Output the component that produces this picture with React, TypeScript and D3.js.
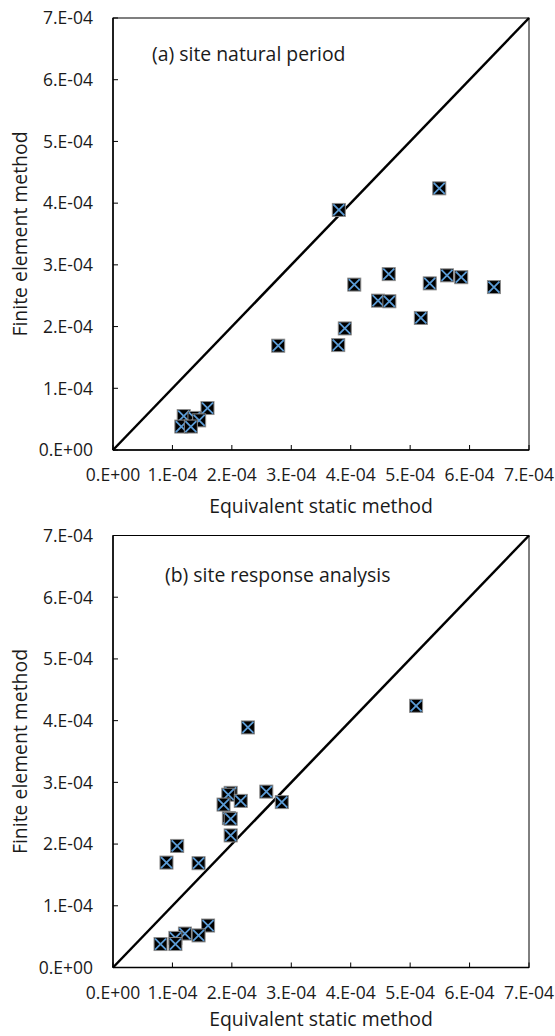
import React from "react";
import { scaleLinear, range } from "d3";

// values in units of 1e-4
const feMethod = [4.24, 3.89, 2.85, 2.83, 2.8, 2.7, 2.68, 2.64, 2.42, 2.41, 2.14, 1.97, 1.7, 1.69, 0.68, 0.55, 0.52, 0.48, 0.38, 0.38];
const esmNaturalPeriod = [5.49, 3.8, 4.64, 5.62, 5.86, 5.33, 4.06, 6.41, 4.46, 4.65, 5.18, 3.9, 3.79, 2.78, 1.59, 1.19, 1.37, 1.45, 1.15, 1.31];
const esmSiteResponse = [5.1, 2.27, 2.58, 1.98, 1.94, 2.15, 2.84, 1.86, 1.95, 1.98, 1.98, 1.08, 0.9, 1.44, 1.6, 1.21, 1.44, 1.05, 0.8, 1.05];
const tickLabels = ["0.E+00", "1.E-04", "2.E-04", "3.E-04", "4.E-04", "5.E-04", "6.E-04", "7.E-04"];
const panelTitles = ["(a) site natural period", "(b) site response analysis"];
const xTitle = "Equivalent static method";
const yTitle = "Finite element method";

const font = "'Open Sans', sans-serif";
const textColor = "#1a1a1a";

function Panel({ top, xs, title, titleX, titleDy, xTitleDy }: { top: number; xs: number[]; title: string; titleX: number; titleDy: number; xTitleDy: number }) {
  const left = 113;
  const right = 529;
  const bottom = top + 432;
  const x = scaleLinear().domain([0, 7]).range([left, right]);
  const y = scaleLinear().domain([0, 7]).range([bottom, top]);
  const ticks = range(0, 8);
  const m = 6.5;
  return (
    <g>
      <rect x={left} y={top} width={right - left} height={bottom - top} fill="none" stroke="#000" strokeWidth={1} />
      <line x1={left} x2={left} y1={top} y2={bottom} stroke="#000" strokeWidth={1.5} />
      <line x1={left} x2={right} y1={bottom} y2={bottom} stroke="#000" strokeWidth={1.5} />
      {ticks.map((t) => (
        <g key={"t" + t}>
          <line x1={left} x2={left + 5} y1={y(t)} y2={y(t)} stroke="#000" strokeWidth={1} />
          <line x1={x(t)} x2={x(t)} y1={bottom} y2={bottom - 5} stroke="#000" strokeWidth={1} />
          <text x={93} y={y(t)} dy="0.36em" textAnchor="end" fontSize={17.5} fontFamily={font} fill={textColor}>
            {tickLabels[t]}
          </text>
          <text x={x(t)} y={bottom + 31} textAnchor="middle" fontSize={17.5} fontFamily={font} fill={textColor}>
            {tickLabels[t]}
          </text>
        </g>
      ))}
      <line x1={x(0)} y1={y(0)} x2={x(7)} y2={y(7)} stroke="#000" strokeWidth={2.5} />
      {xs.map((v, i) => {
        const cx = x(v);
        const cy = y(feMethod[i]);
        return (
          <g key={i}>
            <rect x={cx - m} y={cy - m} width={2 * m} height={2 * m} fill="#000" stroke="#8c8c8c" strokeWidth={1} />
            <path d={`M${cx - m + 1},${cy - m + 1}L${cx + m - 1},${cy + m - 1}M${cx + m - 1},${cy - m + 1}L${cx - m + 1},${cy + m - 1}`} stroke="#5b9bd5" strokeWidth={1.8} />
          </g>
        );
      })}
      <text x={titleX} y={top + titleDy} fontSize={19.4} fontFamily={font} fill={textColor}>
        {title}
      </text>
      <text x={321} y={bottom + xTitleDy} textAnchor="middle" fontSize={19.4} fontFamily={font} fill={textColor}>
        {xTitle}
      </text>
      <text transform={`translate(20,${(top + bottom) / 2}) rotate(-90)`} dy="0.36em" textAnchor="middle" fontSize={19.4} fontFamily={font} fill={textColor}>
        {yTitle}
      </text>
    </g>
  );
}

export default function App() {
  return (
    <svg width={555} height={1036} style={{ position: "absolute", left: 0, top: 0, background: "#fff" }}>
      <Panel top={18} xs={esmNaturalPeriod} title={panelTitles[0]} titleX={152} titleDy={43} xTitleDy={63} />
      <Panel top={535.5} xs={esmSiteResponse} title={panelTitles[1]} titleX={165} titleDy={46} xTitleDy={58} />
    </svg>
  );
}
